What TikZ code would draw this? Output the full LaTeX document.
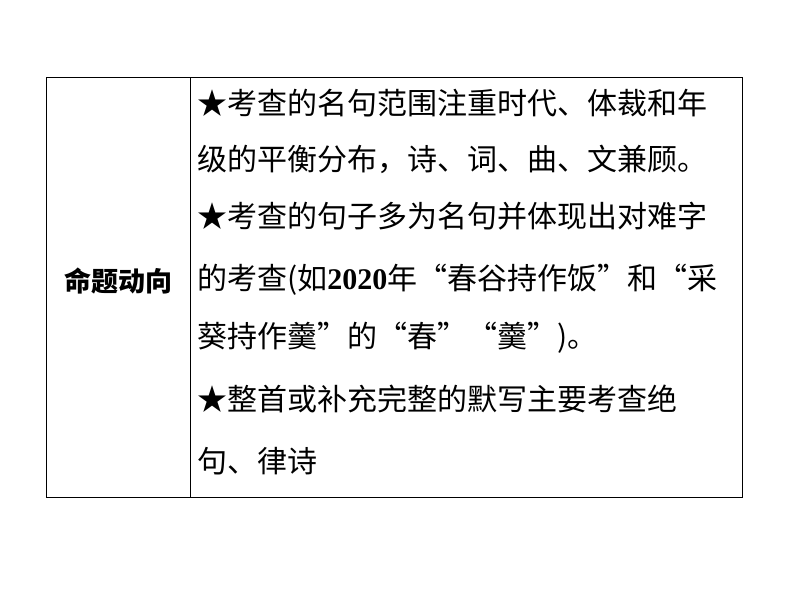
\documentclass[tikz,border=0pt]{standalone}
\usepackage{fontspec}
\newfontfamily\cjk{Noto Sans CJK SC}
\newfontfamily\numf{Liberation Serif}
\begin{document}
\begin{tikzpicture}[x=1pt,y=-1pt,
  line/.style={anchor=west,inner sep=0pt,font=\cjk\fontsize{30}{30}\selectfont}]
\useasboundingbox (0,0) rectangle (794,596);
\draw[line width=1pt] (46,78) rectangle (742,497);
\draw[line width=1pt] (190,78) -- (190,497);
\node[font=\cjk\bfseries\fontsize{27}{27}\selectfont] (lab) at (118,281) {命题动向};
\node[line] (l1) at (197,103) {★考查的名句范围注重时代、体裁和年};
\node[line] (l2) at (197,159) {级的平衡分布，诗、词、曲、文兼顾。};
\node[line] (l3) at (197,216) {★考查的句子多为名句并体现出对难字};
\node[line] (l4) at (197,280) {的考查(如{\numf\bfseries 2020}年“春谷持作饭”和“采};
\node[line] (l5) at (197,338) {葵持作羹”的“春”“羹”)。};
\node[line] (l6) at (197,399) {★整首或补充完整的默写主要考查绝};
\node[line] (l7) at (197,461) {句、律诗};
\end{tikzpicture}
\end{document}
